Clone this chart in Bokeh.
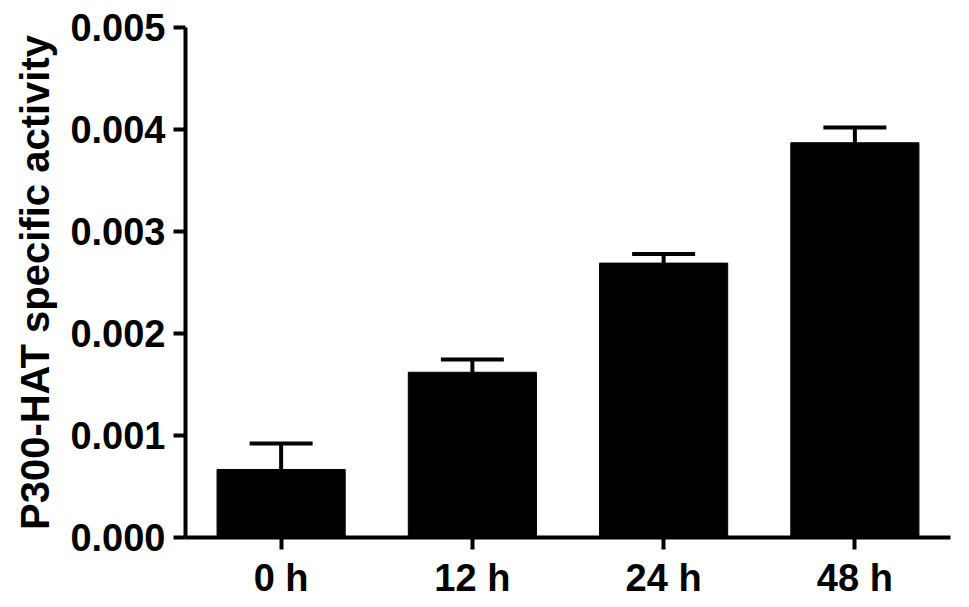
from bokeh.plotting import figure
from bokeh.models import Range1d, FactorRange, Whisker, ColumnDataSource, TeeHead, NumeralTickFormatter, FixedTicker
from bokeh.embed import file_html
from bokeh.resources import INLINE

categories = ["0 h", "12 h", "24 h", "48 h"]
means = [0.000667, 0.00162, 0.00269, 0.00387]
errors = [0.000255, 0.000125, 0.00009, 0.00015]
y_ticks = [0.0, 0.001, 0.002, 0.003, 0.004, 0.005]
y_label = "P300-HAT specific activity"

upper = [m + e for m, e in zip(means, errors)]
src = ColumnDataSource(data=dict(cat=categories, mean=means, upper=upper))

p = figure(x_range=FactorRange(*categories), y_range=Range1d(0, 0.005),
           width=961, height=601, output_backend="svg", toolbar_location=None,
           min_border_left=185, min_border_right=11, min_border_top=27, min_border_bottom=64)
p.outline_line_color = None
p.grid.visible = False
p.background_fill_color = "white"

p.vbar(x="cat", top="mean", width=0.67, source=src, fill_color="black", line_color="black")

w = Whisker(base="cat", upper="upper", lower="mean", source=src,
            upper_head=TeeHead(size=63, line_width=4, line_color="black"),
            lower_head=None, line_width=4, line_color="black")
p.add_layout(w)

font = "Liberation Sans"
for ax in (p.xaxis[0], p.yaxis[0]):
    ax.axis_line_width = 4
    ax.axis_line_color = "black"
    ax.major_tick_line_width = 4
    ax.major_tick_line_color = "black"
    ax.major_tick_out = 12
    ax.major_tick_in = 0
    ax.minor_tick_line_color = None
    ax.major_label_text_font = font
    ax.major_label_text_font_style = "bold"
    ax.major_label_text_font_size = "38px"
    ax.major_label_text_color = "black"

p.yaxis.ticker = FixedTicker(ticks=y_ticks)
p.yaxis.formatter = NumeralTickFormatter(format="0.000")
p.yaxis.major_label_standoff = 8
p.xaxis.major_label_standoff = 7
p.yaxis.axis_label = y_label
p.yaxis.axis_label_text_font = font
p.yaxis.axis_label_text_font_style = "bold"
p.yaxis.axis_label_text_font_size = "40px"
p.yaxis.axis_label_text_color = "black"
p.yaxis.axis_label_standoff = 10

open("out.html", "w").write(file_html(p, INLINE))
